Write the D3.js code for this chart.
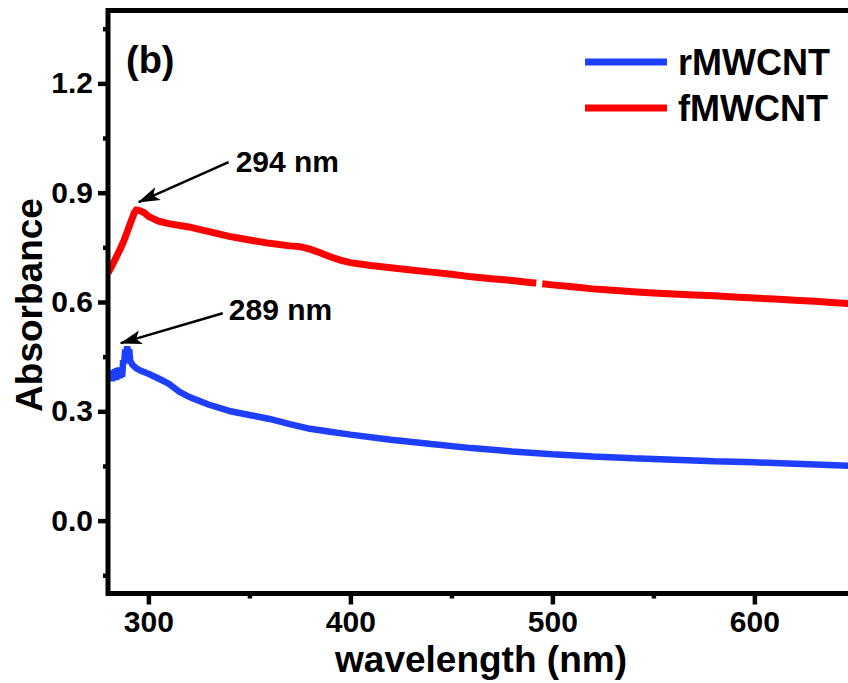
<!DOCTYPE html>
<html>
<head>
<meta charset="utf-8">
<script src="https://cdn.jsdelivr.net/npm/d3@7"></script>
<style>
  html, body { margin: 0; padding: 0; background: #fff; }
  svg { display: block; }
  text { font-family: "Liberation Sans", Arial, sans-serif; font-weight: bold; fill: #000; }
</style>
</head>
<body>
<svg id="chart" width="848" height="683"></svg>
<script>
// ---- data ----
const fWavelength = [280, 282, 284, 286, 288, 290, 291, 292, 293, 294, 296, 298, 300, 305, 310, 320, 330, 340, 350, 360, 370, 375, 380, 385, 390, 395, 400, 410, 420, 430, 440, 450, 460, 470, 480, 490, 492, 494, 495, 500, 510, 520, 530, 540, 550, 560, 570, 580, 590, 600, 610, 620, 630, 640, 650];
const fAbsorbance = [0.679, 0.700, 0.722, 0.745, 0.770, 0.800, 0.815, 0.830, 0.845, 0.852, 0.850, 0.845, 0.835, 0.822, 0.815, 0.806, 0.793, 0.780, 0.770, 0.761, 0.754, 0.752, 0.745, 0.735, 0.724, 0.715, 0.708, 0.700, 0.694, 0.688, 0.682, 0.676, 0.669, 0.664, 0.659, 0.653, 0.652, null, 0.650, 0.647, 0.642, 0.636, 0.632, 0.628, 0.625, 0.622, 0.619, 0.617, 0.614, 0.611, 0.608, 0.605, 0.602, 0.598, 0.595];

const rWavelength = [280.5, 281, 281.5, 282, 282.5, 283, 283.5, 284, 284.5, 285, 285.5, 286, 286.5, 287, 287.5, 288, 288.5, 289, 289.5, 290, 290.5, 291, 292, 294, 296, 300, 305, 310, 315, 320, 330, 340, 350, 360, 370, 380, 390, 400, 420, 440, 460, 480, 500, 520, 540, 560, 580, 600, 620, 640, 650];
const rAbsorbance = [0.405, 0.385, 0.412, 0.383, 0.410, 0.388, 0.415, 0.386, 0.418, 0.390, 0.420, 0.392, 0.418, 0.395, 0.440, 0.430, 0.470, 0.455, 0.478, 0.462, 0.470, 0.440, 0.428, 0.418, 0.412, 0.403, 0.390, 0.376, 0.355, 0.340, 0.318, 0.301, 0.290, 0.279, 0.265, 0.252, 0.244, 0.236, 0.222, 0.210, 0.199, 0.190, 0.182, 0.176, 0.171, 0.167, 0.163, 0.160, 0.156, 0.152, 0.150];

const seriesNames = ["rMWCNT", "fMWCNT"];
const xMajorTicks = [300, 400, 500, 600];
const xMinorTicks = [350, 450, 550, 650];
const yMajorTicks = [0.0, 0.3, 0.6, 0.9, 1.2];
const yMinorTicks = [-0.15, 0.15, 0.45, 0.75, 1.05, 1.35];
const xDomain = [280, 650];
const yDomain = [-0.2, 1.4];

const annotations = [
  { tip: [295.2, 0.874], tail: [339.7, 0.984], label: [343.2, 0.956], text: "294 nm" },
  { tip: [286.3, 0.487], tail: [336.8, 0.569], label: [339.8, 0.550], text: "289 nm" }
];

// ---- layout ----
const plotLeft = 108, plotTop = 10.5, plotBottom = 593.5;
const x = d3.scaleLinear().domain(xDomain).range([plotLeft, plotLeft + 370 * 2.02]);
const y = d3.scaleLinear().domain(yDomain).range([plotBottom, plotTop]);

const blue = "#1f3fff", red = "#ff0000";
const svg = d3.select("#chart");

const defs = svg.append("defs");
defs.append("clipPath").attr("id", "clip").append("rect")
  .attr("x", plotLeft).attr("y", plotTop).attr("width", 900).attr("height", plotBottom - plotTop);
defs.append("marker").attr("id", "arrow").attr("markerUnits", "userSpaceOnUse")
  .attr("viewBox", "0 0 22 14").attr("refX", 21).attr("refY", 7)
  .attr("markerWidth", 22).attr("markerHeight", 14).attr("orient", "auto")
  .append("path").attr("d", "M0,0 L22,7 L0,14 L5,7 Z").attr("fill", "#000");

// lines
const line = d3.line().defined(d => d[1] !== null).x(d => x(d[0])).y(d => y(d[1]));
const g = svg.append("g").attr("clip-path", "url(#clip)");
g.append("path").datum(rWavelength.map((w, i) => [w, rAbsorbance[i]]))
  .attr("d", line).attr("fill", "none").attr("stroke", blue).attr("stroke-width", 6.5).attr("stroke-linejoin", "bevel");
g.append("path").datum(fWavelength.map((w, i) => [w, fAbsorbance[i]]))
  .attr("d", line).attr("fill", "none").attr("stroke", red).attr("stroke-width", 7).attr("stroke-linejoin", "miter");

// axes
const yAxis = d3.axisLeft(y).tickValues(yMajorTicks).tickFormat(d3.format(".1f")).tickSize(10).tickPadding(5);
const yAxisMinor = d3.axisLeft(y).tickValues(yMinorTicks).tickFormat("").tickSize(5);
const xAxis = d3.axisBottom(x).tickValues(xMajorTicks).tickFormat(d3.format("d")).tickSize(11).tickPadding(6);
const xAxisMinor = d3.axisBottom(x).tickValues(xMinorTicks).tickFormat("").tickSize(5);

function styleAxis(sel, fs) {
  sel.select(".domain").remove();
  sel.selectAll(".tick line").attr("stroke", "#000").attr("stroke-width", 4.5);
  sel.selectAll(".tick text").style("font-size", fs + "px").style("font-family", '"Liberation Sans", Arial, sans-serif').style("font-weight", "bold").attr("fill", "#000");
}
svg.append("g").attr("transform", `translate(${plotLeft},0)`).call(yAxis).call(s => styleAxis(s, 30));
svg.append("g").attr("transform", `translate(${plotLeft},0)`).call(yAxisMinor).call(s => styleAxis(s, 30));
svg.append("g").attr("transform", `translate(0,${plotBottom})`).call(xAxis).call(s => styleAxis(s, 30));
svg.append("g").attr("transform", `translate(0,${plotBottom})`).call(xAxisMinor).call(s => styleAxis(s, 30));

// frame lines
svg.append("line").attr("x1", plotLeft).attr("x2", 860).attr("y1", plotTop).attr("y2", plotTop).attr("stroke", "#000").attr("stroke-width", 5);
svg.append("line").attr("x1", plotLeft).attr("x2", 860).attr("y1", plotBottom).attr("y2", plotBottom).attr("stroke", "#000").attr("stroke-width", 5);
svg.append("line").attr("x1", plotLeft).attr("x2", plotLeft).attr("y1", plotTop - 2.5).attr("y2", plotBottom + 2.5).attr("stroke", "#000").attr("stroke-width", 5);

// axis titles
svg.append("text").attr("x", 481).attr("y", 672).attr("text-anchor", "middle").style("font-size", "37px").text("wavelength (nm)");
svg.append("text").attr("transform", "translate(42,305) rotate(-90)").attr("text-anchor", "middle").style("font-size", "37px").text("Absorbance");

// panel label
svg.append("text").attr("x", 126).attr("y", 73).style("font-size", "38px").text("(b)");

// legend
const legendColors = [blue, red];
seriesNames.forEach((name, i) => {
  const ly = 62 + i * 46;
  svg.append("line").attr("x1", 585).attr("x2", 667).attr("y1", ly).attr("y2", ly).attr("stroke", legendColors[i]).attr("stroke-width", 7);
  svg.append("text").attr("x", 678).attr("y", ly + 12.5).style("font-size", "36px").text(name);
});

// annotations
annotations.forEach(a => {
  svg.append("line").attr("x1", x(a.tail[0])).attr("y1", y(a.tail[1]))
    .attr("x2", x(a.tip[0])).attr("y2", y(a.tip[1]))
    .attr("stroke", "#000").attr("stroke-width", 2.5).attr("marker-end", "url(#arrow)");
  svg.append("text").attr("x", x(a.label[0])).attr("y", y(a.label[1])).style("font-size", "30px").text(a.text);
});
</script>
</body>
</html>
